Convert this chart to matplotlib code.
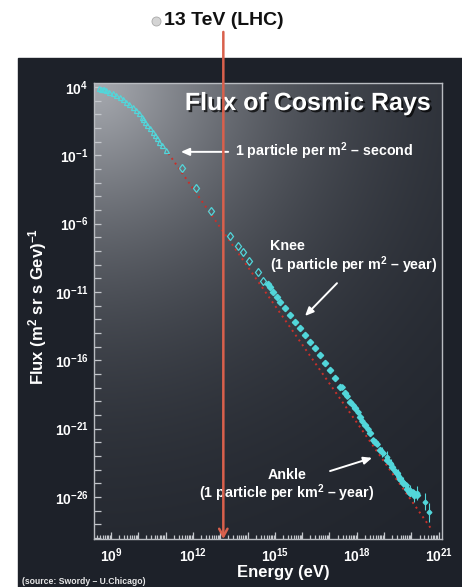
import numpy as np
import matplotlib.pyplot as plt
import matplotlib.patheffects as pe
from matplotlib.patches import Rectangle
from matplotlib.lines import Line2D
from matplotlib.ticker import FixedLocator, FuncFormatter, LogLocator, NullFormatter

plt.rcParams['font.family'] = ['Liberation Sans', 'DejaVu Sans']
plt.rcParams['font.weight'] = 'bold'
plt.rcParams['mathtext.fontset'] = 'custom'
plt.rcParams['mathtext.rm'] = 'Liberation Sans:bold'
plt.rcParams['mathtext.bf'] = 'Liberation Sans:bold'
plt.rcParams['mathtext.it'] = 'Liberation Sans:bold:italic'
plt.rcParams['mathtext.default'] = 'bf'

# all values are log10(energy / eV) and log10(flux)
low_logE = [8.57, 8.64, 8.70, 8.76, 8.82, 8.94, 9.06, 9.18, 9.33, 9.45, 9.55, 9.67,
            9.79, 9.92, 10.04, 10.12, 10.18, 10.26, 10.33, 10.43, 10.53, 10.61,
            10.67, 10.77, 10.86, 11.01]
low_logF = [3.90, 3.88, 3.85, 3.82, 3.78, 3.66, 3.54, 3.41, 3.29, 3.12, 2.92, 2.76,
            2.56, 2.32, 2.08, 1.83, 1.64, 1.43, 1.22, 0.98, 0.73, 0.49,
            0.25, 0.00, -0.24, -0.61]

mid_logE = [11.59, 12.10, 12.66, 13.36, 13.66, 13.82, 14.07, 14.37, 14.58]
mid_logF = [-1.95, -3.37, -5.07, -6.90, -7.63, -8.09, -8.73, -9.51, -10.17]

knee_logE = [14.76, 14.82, 14.92, 15.07, 15.19, 15.37, 15.56, 15.74, 15.92, 16.11,
             16.29, 16.47, 16.66, 16.84, 17.02, 17.21, 17.39, 17.57, 17.75, 17.94,
             18.12, 18.30, 18.49, 18.67, 18.85, 19.10, 19.30, 19.46, 19.60, 19.71,
             19.85, 19.95, 20.10, 20.20]
knee_logF = [-10.42, -10.61, -10.97, -11.34, -11.70, -12.19, -12.68, -13.17, -13.65, -14.14,
             -14.63, -15.12, -15.60, -16.21, -16.70, -17.31, -17.92, -18.41, -19.02, -19.50,
             -20.11, -20.73, -21.33, -21.94, -22.55, -23.30, -23.80, -24.26, -24.65, -24.99,
             -25.40, -25.72, -25.80, -25.84]

spread_logE = [17.45, 17.65, 17.85, 18.05, 18.20, 18.40, 18.60, 18.75, 18.95, 19.20,
               19.40, 19.55, 19.80, 19.90, 20.05]
spread_logF = [-17.95, -18.60, -19.30, -19.80, -20.45, -21.00, -21.80, -22.10, -22.80, -23.50,
               -24.10, -24.50, -25.10, -25.60, -25.65]

# ankle points with error bars (half width in decades)
ankle_logE = [18.92, 19.10, 19.25, 19.50, 19.70, 19.95, 20.10, 20.22, 20.48, 20.65]
ankle_logF = [-22.70, -23.10, -23.60, -24.40, -24.90, -25.50, -25.90, -25.70, -26.33, -27.10]
ankle_err = [0.35, 0.50, 0.40, 0.45, 0.35, 0.40, 0.45, 0.50, 0.60, 0.70]

# power law guide
fit_logE = [11.10, 20.75]
fit_logF = [-0.85, -28.40]

lhc_energy = 1.3e13

xlim_log = (8.39, 21.12)
ylim_log = (-29.07, 4.29)

cyan = '#52d6da'

fig = plt.figure(figsize=(4.62, 5.87), dpi=100)
fig.patch.set_facecolor('white')
fig.add_artist(Rectangle((18 / 462, 0), 1 - 18 / 462, 1 - 58 / 587,
                         transform=fig.transFigure, color='#1d2129', zorder=-10))

pos = [94.3 / 462, 1 - 539 / 587, 347.7 / 462, 456 / 587]

# shaded panel behind the plot
bg = fig.add_axes(pos, zorder=0)
bg.axis('off')
h, w = 228, 174
yy, xx = np.mgrid[0:h, 0:w]
r = np.hypot(xx * 2.0, yy * 2.0) / 200.0
shade = np.exp(-r ** 1.3)
dark = np.array([30, 34, 42]) / 255.0
light = np.array([165, 168, 174]) / 255.0
img = dark[None, None, :] + (light - dark)[None, None, :] * shade[:, :, None]
bg.imshow(img, extent=[0, 1, 0, 1], aspect='auto', interpolation='bilinear')
bg.set_xlim(0, 1)
bg.set_ylim(0, 1)

ax = fig.add_axes(pos, zorder=1)
ax.set_facecolor('none')
ax.set_xscale('log')
ax.set_yscale('log')

ax.plot(10.0 ** np.array(fit_logE), 10.0 ** np.array(fit_logF), color='#c8302a',
        lw=1.4, linestyle=(0, (1, 2)), zorder=2)
ax.plot(10.0 ** np.array(low_logE), 10.0 ** np.array(low_logF), '^', ms=3.6,
        mfc='none', mec=cyan, mew=0.9, zorder=3)
ax.plot(10.0 ** np.array(mid_logE), 10.0 ** np.array(mid_logF), 'd', ms=4.5,
        mfc='none', mec=cyan, mew=0.9, zorder=3)
ax.plot(10.0 ** np.array(knee_logE), 10.0 ** np.array(knee_logF), 'D', ms=3.2,
        color=cyan, mec=cyan, zorder=3)
ax.plot(10.0 ** np.array(spread_logE), 10.0 ** np.array(spread_logF), 'D', ms=2.8,
        color=cyan, mec=cyan, zorder=3)

aF = 10.0 ** np.array(ankle_logF)
aErr = np.array(ankle_err)
ax.errorbar(10.0 ** np.array(ankle_logE), aF,
            yerr=[aF * (1 - 10.0 ** -aErr), aF * (10.0 ** aErr - 1)],
            fmt='D', ms=2.4, color=cyan, ecolor=cyan, elinewidth=0.8, capsize=0, zorder=3)

ax.set_xlim(10.0 ** xlim_log[0], 10.0 ** xlim_log[1])
ax.set_ylim(10.0 ** ylim_log[0], 10.0 ** ylim_log[1])

ax.xaxis.set_major_locator(FixedLocator([10.0 ** k for k in range(8, 22)]))
ax.xaxis.set_minor_locator(LogLocator(base=10, subs=np.arange(2, 10), numticks=60))
ax.xaxis.set_minor_formatter(NullFormatter())
ax.xaxis.set_major_formatter(FuncFormatter(
    lambda v, p: r'$10^{%d}$' % round(np.log10(v)) if round(np.log10(v)) % 3 == 0 else ''))

ax.yaxis.set_major_locator(FixedLocator([10.0 ** k for k in range(-29, 5)]))
ax.yaxis.set_minor_locator(FixedLocator([]))
ax.yaxis.set_major_formatter(FuncFormatter(
    lambda v, p: r'$10^{%d}$' % round(np.log10(v)) if (4 - round(np.log10(v))) % 5 == 0 else ''))

ax.tick_params(which='both', direction='in', color='#c4c7cc', labelcolor='white',
               labelsize=10, width=0.9)
ax.tick_params(axis='x', which='major', length=5, pad=5)
ax.tick_params(axis='x', which='minor', length=3)
ax.tick_params(axis='y', which='major', length=5, pad=4.3)
for s in ax.spines.values():
    s.set_color('#b9bcc1')
    s.set_linewidth(1.0)

# LHC marker
ax.annotate('', xy=(lhc_energy, 10.0 ** ylim_log[0]), xycoords='data',
            xytext=(lhc_energy, 1.112), textcoords=('data', 'axes fraction'),
            arrowprops=dict(arrowstyle='->,head_length=0.55,head_width=0.3',
                            color='#d9604c', lw=1.8, shrinkA=0, shrinkB=0),
            annotation_clip=False, zorder=5)
ax.text(lhc_energy, 1.137, '13 TeV (LHC)', transform=ax.get_xaxis_transform(),
        ha='center', va='center', fontsize=14, color='#111111', fontweight='bold')
fig.add_artist(Line2D([156 / 462], [1 - 21 / 587], marker='o', ms=6.5,
                      mfc='#d4d4d4', mec='#a8a8a8', mew=0.6, transform=fig.transFigure))

ax.text(0.614, 0.956, 'Flux of Cosmic Rays', transform=ax.transAxes, ha='center',
        va='center', fontsize=18, color='white',
        path_effects=[pe.withSimplePatchShadow(offset=(1.5, -1.5), shadow_rgbFace='black', alpha=0.7)])

arrow_kw = dict(arrowstyle='-|>,head_length=0.5,head_width=0.22', color='white',
                lw=1.4, shrinkA=0, shrinkB=0)
ax.annotate('', xy=(0.249, 0.849), xytext=(0.385, 0.849), xycoords='axes fraction',
            arrowprops=arrow_kw)
ax.text(0.405, 0.851, '1 particle per m$^{2}$ – second', transform=ax.transAxes,
        ha='left', va='center', fontsize=10.3, color='white')

ax.text(0.505, 0.643, 'Knee', transform=ax.transAxes, ha='left', va='center',
        fontsize=10.3, color='white')
ax.text(0.505, 0.601, '(1 particle per m$^{2}$ – year)', transform=ax.transAxes,
        ha='left', va='center', fontsize=10.3, color='white')
ax.annotate('', xy=(0.606, 0.489), xytext=(0.698, 0.561), xycoords='axes fraction',
            arrowprops=arrow_kw)

ax.text(0.554, 0.140, 'Ankle', transform=ax.transAxes, ha='center', va='center',
        fontsize=10.3, color='white')
ax.text(0.554, 0.101, '(1 particle per km$^{2}$ – year)', transform=ax.transAxes,
        ha='center', va='center', fontsize=10.3, color='white')
ax.annotate('', xy=(0.799, 0.178), xytext=(0.678, 0.149), xycoords='axes fraction',
            arrowprops=arrow_kw)

fig.text(283 / 462, 1 - 573 / 587, 'Energy (eV)', ha='center', va='center',
         fontsize=12, color='white')
fig.text(38 / 462, 1 - 306 / 587, 'Flux (m$^{2}$ sr s Gev)$^{-1}$', ha='center', va='center',
         rotation=90, fontsize=12, color='white')
fig.text(22 / 462, 1 - 582 / 587, '(source: Swordy – U.Chicago)', ha='left', va='center',
         fontsize=6.2, color='#e8e8e8')

fig.savefig('out.png', dpi=100)
